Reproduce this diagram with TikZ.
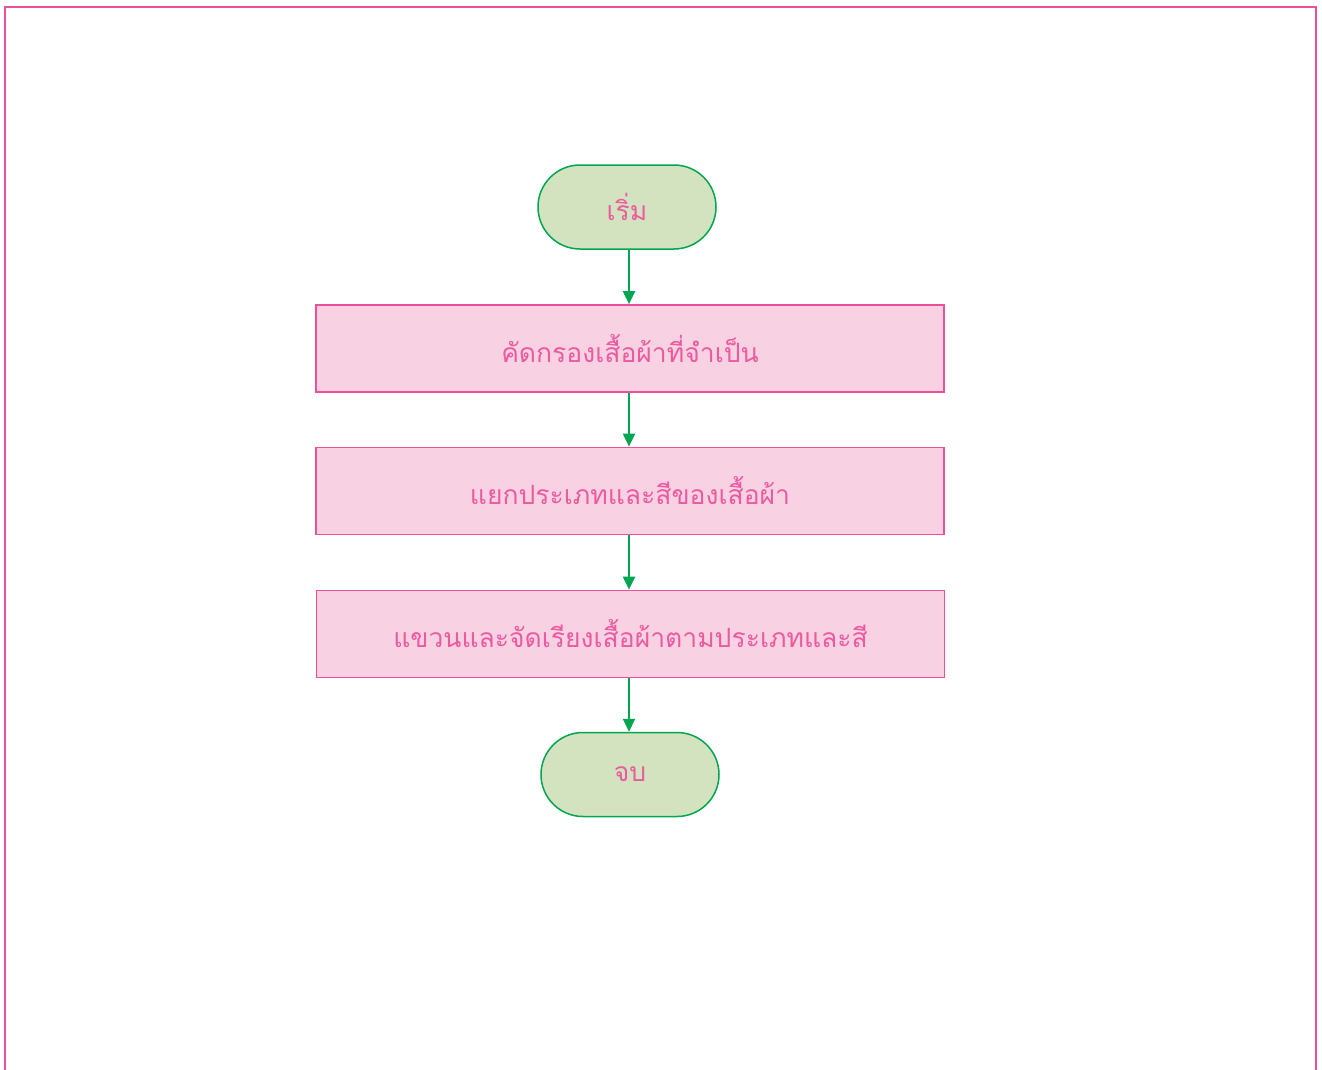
\documentclass[tikz,border=0pt]{standalone}
\usepackage{fontspec}
\newfontfamily\thaifont[Script=Thai]{Loma}
\usetikzlibrary{arrows.meta,shapes.misc}
\definecolor{pinkline}{RGB}{236,80,155}
\definecolor{pinkfill}{RGB}{248,210,227}
\definecolor{pinktext}{RGB}{236,90,160}
\definecolor{greenline}{RGB}{0,166,81}
\definecolor{greenfill}{RGB}{211,227,191}
\tikzset{
  term/.style={rounded rectangle, draw=greenline, fill=greenfill, line width=1.5pt,
    minimum width=178pt, minimum height=84pt, inner sep=0pt,
    font=\thaifont\fontsize{26.5}{30}\selectfont, text=pinktext},
  procbox/.style={rectangle, draw=pinkline, fill=pinkfill, line width=1.7pt,
    minimum width=628pt, minimum height=87pt, inner sep=0pt,
    font=\thaifont\fontsize{26.5}{30}\selectfont, text=pinktext},
  flow/.style={draw=greenline, line width=2pt, -{Triangle[length=13pt,width=12pt]}}
}
\begin{document}
\begin{tikzpicture}[x=1pt,y=-1pt]
\useasboundingbox (0,0) rectangle (1322,1070);
\begin{scope}
\clip (0,0) rectangle (1322,1070);
\draw[pinkline, line width=1.5pt] (5,7) rectangle (1316,1090);
\end{scope}
\node[term] (start) at (627,207) {เริ่ม};
\node[procbox] (b1) at (630,348.5) {คัดกรองเสื้อผ้าที่จำเป็น};
\node[procbox] (b2) at (630,491) {แยกประเภทและสีของเสื้อผ้า};
\node[procbox] (b3) at (630.5,634) {แขวนและจัดเรียงเสื้อผ้าตามประเภทและสี};
\node[term] (end) at (630,774.5) {จบ};
\draw[flow] (start.south -| 629,0) -- (b1.north -| 629,0);
\draw[flow] (b1.south -| 629,0) -- (b2.north -| 629,0);
\draw[flow] (b2.south -| 629,0) -- (b3.north -| 629,0);
\draw[flow] (b3.south -| 629,0) -- (end.north -| 629,0);
\end{tikzpicture}
\end{document}
